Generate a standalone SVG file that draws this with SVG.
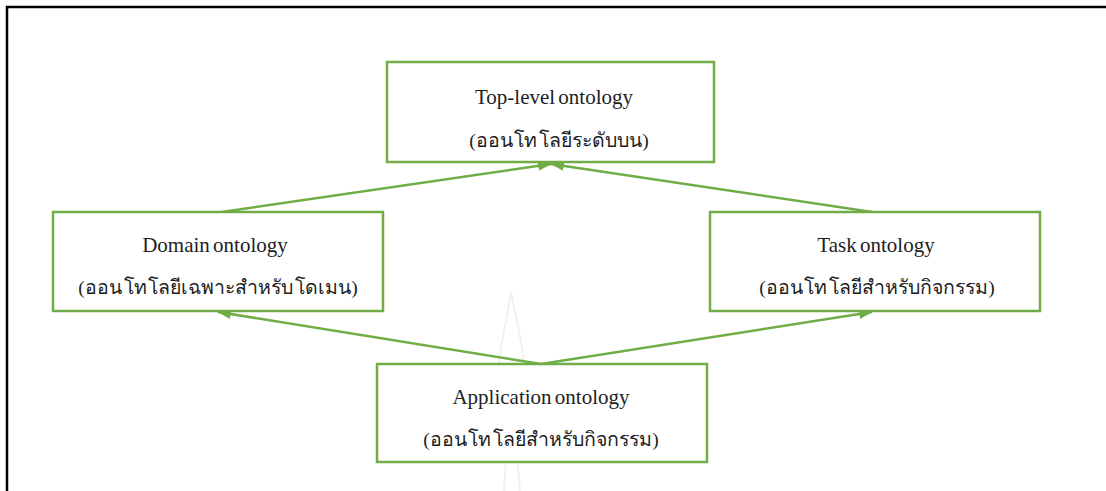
<svg xmlns="http://www.w3.org/2000/svg" width="1106" height="491" viewBox="0 0 1106 491">
  <defs>
    <marker id="arrow" viewBox="0 0 14 10" refX="13" refY="5" markerWidth="14" markerHeight="10" markerUnits="userSpaceOnUse" orient="auto">
      <path d="M0,0 L14,5 L0,10 Z" fill="#70ad47"/>
    </marker>
    <style>
      .box { fill: #ffffff; stroke: #70ad47; stroke-width: 2.5; }
      .link { fill: none; stroke: #70ad47; stroke-width: 2.5; marker-end: url(#arrow); }
      .label { font-family: "Liberation Serif", "Noto Serif", serif; font-size: 21px; fill: #1e1e1e; text-anchor: middle; word-spacing: -2px; }
      .thai { font-size: 19.5px; word-spacing: -3px; }
      .frame { fill: none; stroke: #000000; stroke-width: 2.5; }
      .mark { fill: none; stroke: #f1f1f1; stroke-width: 2; }
    </style>
  </defs>

  <rect width="1106" height="491" fill="#ffffff"/>

  <!-- page frame -->
  <path class="frame" d="M7,491 L7,7 L1106,7"/>

  <!-- faint background emblem -->
  <path class="mark" d="M511,292 C507,320 500,345 498,372 C497,392 506,404 507,420 C508,445 505,470 504,491 M511,292 C516,320 523,345 525,372 C526,392 517,404 516,420 C515,445 519,470 520,491"/>

  <g id="connectors">
    <line class="link" x1="222" y1="212" x2="551" y2="164"/>
    <line class="link" x1="872" y1="212" x2="551" y2="164"/>
    <line class="link" x1="541" y1="364" x2="218" y2="312"/>
    <line class="link" x1="541" y1="364" x2="872" y2="312"/>
  </g>

  <g id="top-level">
    <rect class="box" x="387" y="62" width="327" height="100"/>
    <text class="label" x="554" y="104">Top-level ontology</text>
    <text class="label thai" x="559" y="147">(ออน โท โลยีระดับบน)</text>
  </g>

  <g id="domain">
    <rect class="box" x="53" y="212" width="330" height="99"/>
    <text class="label" x="215" y="252">Domain ontology</text>
    <text class="label thai" x="218" y="294">(ออน โท โลยีเฉพาะสำหรับ โดเมน)</text>
  </g>

  <g id="task">
    <rect class="box" x="710" y="212" width="330" height="99"/>
    <text class="label" x="876" y="252">Task ontology</text>
    <text class="label thai" x="877" y="294">(ออน โท โลยีสำหรับกิจกรรม)</text>
  </g>

  <g id="application">
    <rect class="box" x="377" y="364" width="330" height="98"/>
    <text class="label" x="541" y="404">Application ontology</text>
    <text class="label thai" x="541" y="446">(ออน โท โลยีสำหรับกิจกรรม)</text>
  </g>
</svg>
